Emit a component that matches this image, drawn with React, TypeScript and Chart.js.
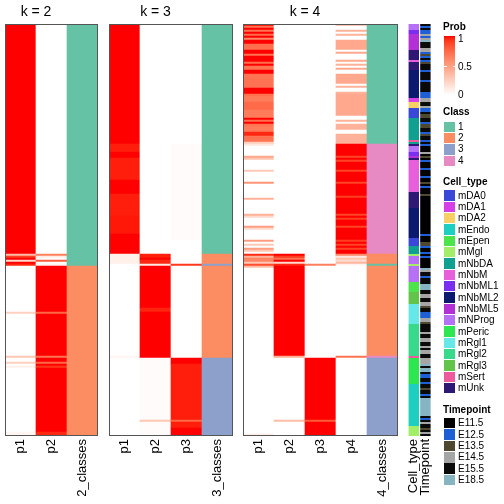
import React, { useEffect, useRef } from "react";
import { Chart, registerables } from "chart.js";

Chart.register(...registerables);

type Run = [number, number];
type LRun = [string, number];

const ROWS = 206;

const k2Columns = ["p1", "p2", "2_classes"];
const k3Columns = ["p1", "p2", "p3", "3_classes"];
const k4Columns = ["p1", "p2", "p3", "p4", "4_classes"];
const annotationColumns = ["Cell_type", "Timepoint"];

// membership probabilities as [value, number of consecutive samples]
const k2P1: Run[] = [[1, 115], [0.35, 1], [0.9, 1], [1, 1], [0.2, 1], [1, 1], [0.95, 1], [0, 23], [0.25, 1], [0, 21], [0.3, 1], [0, 2], [0.25, 1], [0, 1], [0.08, 1], [0, 32], [0.05, 2]];
const k2P2: Run[] = [[0, 115], [0.65, 1], [0.1, 1], [0, 1], [0.8, 1], [0, 1], [0.05, 1], [1, 23], [0.75, 1], [1, 21], [0.7, 1], [1, 2], [0.75, 1], [1, 1], [0.92, 1], [1, 32], [0.95, 2]];
const k2Class: Run[] = [[1, 121], [2, 85]];

const k3P1: Run[] = [[1, 60], [0.97, 4], [1, 3], [0.97, 11], [1, 7], [0.97, 11], [0.98, 9], [1, 10], [0.08, 5], [0, 1], [0, 45], [0.05, 1], [0, 39]];
const k3P2: Run[] = [[0, 115], [0.97, 2], [1, 1], [0.95, 2], [0.1, 1], [1, 21], [0.96, 2], [1, 23], [0.02, 31], [0.3, 1], [0.02, 7]];
const k3P3: Run[] = [[0, 60], [0.02, 48], [0, 12], [0.92, 1], [0, 46], [1, 3], [0.97, 28], [0.75, 1], [0.97, 3], [1, 4]];
const k3Class: Run[] = [[1, 115], [2, 5], [3, 1], [2, 46], [3, 39]];

const k4P1: Run[] = [
  [1, 1], [0.7, 1], [1, 1], [0.7, 1], [1, 1], [0.72, 1], [1, 1], [0.6, 1], [1, 2], [0.72, 3], [1, 2], [0.7, 1], [1, 3], [0.72, 1], [1, 1], [0.7, 2], [1, 2], [0.7, 7], [1, 3], [0.72, 1], [0.66, 3], [0.74, 4], [0.66, 4], [1, 1], [0.72, 1], [1, 1], [0.7, 1], [0.66, 3], [0.95, 2], [0.7, 3], [0.25, 1],
  [0.12, 1], [0, 5], [0.45, 1], [0.32, 1], [0, 5], [0.28, 1], [0, 5], [0.55, 1], [0, 7], [0.4, 1], [0, 7], [0.4, 1], [0.2, 1], [0, 4], [0.5, 1], [0.2, 1], [0, 5], [0.5, 1], [0, 1], [0.28, 1], [0, 1], [0.5, 1], [0.28, 1], [0, 1],
  [0.95, 1], [0.4, 1], [0.62, 2], [0.28, 1], [0.85, 1], [0.35, 1], [0, 83], [0.1, 1],
];
const k4P2: Run[] = [[0, 115], [1, 1], [0.9, 1], [0.7, 1], [1, 1], [0.2, 1], [0.95, 1], [1, 45], [0.42, 1], [0, 31], [0.35, 1], [0, 7]];
const k4P3: Run[] = [[0, 120], [0.65, 1], [0, 46], [1, 31], [0.8, 1], [1, 7]];
const k4P4: Run[] = [
  [0.4, 1], [0, 2], [0.4, 1], [0, 1], [0.4, 1], [0, 2], [0.45, 5], [0, 1], [0.45, 1], [0, 3], [0.45, 1], [0, 1], [0.4, 1], [0, 1], [0.45, 1], [0, 2],
  [0.45, 5], [0, 1], [0.4, 1], [0, 2], [0.4, 1], [0.45, 11], [0, 2], [0.4, 1], [0, 1], [0.4, 3], [0, 2], [0.4, 1], [0.4, 4],
  [1, 6], [0.88, 1], [1, 1], [0.88, 1], [1, 4], [0.88, 1], [1, 5], [0.88, 1], [1, 6], [0.9, 1], [1, 8], [0.88, 1], [1, 1], [0.9, 1], [1, 3], [0.88, 1], [1, 6], [0.9, 1], [1, 1], [0.88, 1], [1, 1], [0.88, 1], [1, 2],
  [0.6, 1], [0.12, 1], [0.3, 1], [0.18, 1], [0.38, 1], [0.06, 1], [0, 45], [0.7, 1], [0, 39],
];
const k4Class: Run[] = [[1, 60], [4, 55], [2, 5], [1, 1], [2, 45], [4, 1], [3, 39]];

const cellTypeRuns: LRun[] = [
  ["mNProg", 3], ["mNbML1", 2], ["mNbML5", 8], ["mUnk", 5], ["mNbM", 1], ["mUnk", 4], ["mNbML2", 14], ["mDA1", 2], ["mDA2", 3], ["mDA0", 5],
  ["mNbDA", 11], ["mSert", 1], ["mNbDA", 1], ["mUnk", 1], ["mNProg", 3], ["mNbML1", 2], ["mNbML5", 1], ["mUnk", 1], ["mNbM", 16], ["mUnk", 8],
  ["mNbML2", 15], ["mDA0", 4], ["mNbDA", 4], ["mMgl", 1], ["mNProg", 4], ["mMgl", 1], ["mNProg", 8], ["mEpen", 5], ["mRgl3", 6], ["mRgl1", 10],
  ["mRgl2", 16], ["mSert", 1], ["mPeric", 13], ["mEndo", 21], ["mMgl", 5],
];

const timepointRuns: LRun[] = [
  ["E15.5", 1], ["E12.5", 1], ["E15.5", 1], ["E12.5", 2], ["E14.5", 1], ["E12.5", 1], ["E14.5", 1], ["E18.5", 1], ["E15.5", 3], ["E14.5", 2],
  ["E12.5", 1], ["E13.5", 1], ["E12.5", 1], ["E15.5", 1], ["E12.5", 1], ["E13.5", 1], ["E15.5", 3], ["E12.5", 1], ["E15.5", 4], ["E12.5", 1],
  ["E15.5", 5], ["E12.5", 3], ["E14.5", 2], ["E15.5", 2], ["E14.5", 1], ["E12.5", 2], ["E15.5", 1], ["E13.5", 2], ["E15.5", 2], ["E12.5", 1],
  ["E13.5", 2], ["E15.5", 2], ["E12.5", 1], ["E13.5", 1], ["E15.5", 2], ["E12.5", 1], ["E15.5", 1], ["E12.5", 1], ["E11.5", 3], ["E14.5", 1],
  ["E11.5", 1], ["E13.5", 1], ["E11.5", 1], ["E12.5", 1], ["E11.5", 3], ["E12.5", 1], ["E11.5", 3], ["E12.5", 1], ["E11.5", 2], ["E13.5", 1],
  ["E11.5", 1], ["E12.5", 1], ["E11.5", 3], ["E13.5", 1], ["E11.5", 19],
  ["E12.5", 1], ["E11.5", 3], ["E13.5", 2], ["E12.5", 1], ["E11.5", 2], ["E12.5", 1], ["E11.5", 1], ["E12.5", 1], ["E11.5", 5], ["E18.5", 1],
  ["E14.5", 1], ["E15.5", 2], ["E12.5", 1], ["E15.5", 3], ["E18.5", 3], ["E15.5", 2], ["E14.5", 2], ["E15.5", 2], ["E14.5", 2], ["E13.5", 1],
  ["E15.5", 2], ["E12.5", 3], ["E14.5", 2], ["E13.5", 1], ["E15.5", 4], ["E14.5", 1], ["E15.5", 2], ["E14.5", 2], ["E15.5", 2], ["E14.5", 1],
  ["E15.5", 1], ["E14.5", 2], ["E15.5", 2], ["E14.5", 3], ["E18.5", 1], ["E15.5", 1], ["E18.5", 2], ["E15.5", 1], ["E12.5", 2], ["E15.5", 2],
  ["E12.5", 1], ["E15.5", 2], ["E13.5", 1], ["E15.5", 2], ["E12.5", 1], ["E15.5", 1], ["E18.5", 9], ["E15.5", 1], ["E12.5", 1], ["E15.5", 1],
  ["E14.5", 1], ["E15.5", 2], ["E13.5", 1], ["E15.5", 1], ["E14.5", 1], ["E15.5", 1],
];

const probTicks = ["1", "0.5", "0"];
const classLevels = ["1", "2", "3", "4"];
const classColors = ["#66C2A5", "#FC8D62", "#8DA0CB", "#E78AC3"];
const cellTypeLevels = ["mDA0", "mDA1", "mDA2", "mEndo", "mEpen", "mMgl", "mNbDA", "mNbM", "mNbML1", "mNbML2", "mNbML5", "mNProg", "mPeric", "mRgl1", "mRgl2", "mRgl3", "mSert", "mUnk"];
const cellTypeColors = ["#3A48D8", "#D63EE8", "#F7CF63", "#1CCFC0", "#4DE34B", "#A2EE66", "#10A090", "#E85FDC", "#7B2EF0", "#0B1A6E", "#B32FD6", "#B570F5", "#2EE650", "#66E8E8", "#36DA8A", "#63C44C", "#EE5B9C", "#2E1873"];
const timepointLevels = ["E11.5", "E12.5", "E13.5", "E14.5", "E15.5", "E18.5"];
const timepointColors = ["#000000", "#1F5FD6", "#4E4830", "#A5A5A5", "#0A0A0A", "#86B4C2"];

const FONT = '"Liberation Sans", Arial, Helvetica, sans-serif';

// ---- colour helpers (LAB interpolation white -> red, like colorRamp2) ----
const WX = 0.95047, WY = 1.0, WZ = 1.08883;
const toLin = (c: number) => { const s = c / 255; return s <= 0.04045 ? s / 12.92 : Math.pow((s + 0.055) / 1.055, 2.4); };
const fromLin = (c: number) => { const s = c <= 0.0031308 ? 12.92 * c : 1.055 * Math.pow(c, 1 / 2.4) - 0.055; return Math.round(Math.max(0, Math.min(1, s)) * 255); };
const fl = (t: number) => (t > 0.008856 ? Math.cbrt(t) : 7.787 * t + 16 / 116);
const finv = (t: number) => { const t3 = t * t * t; return t3 > 0.008856 ? t3 : (t - 16 / 116) / 7.787; };
function rgbToLab(r: number, g: number, b: number) {
  const R = toLin(r), G = toLin(g), B = toLin(b);
  const X = (0.4124 * R + 0.3576 * G + 0.1805 * B) / WX;
  const Y = (0.2126 * R + 0.7152 * G + 0.0722 * B) / WY;
  const Z = (0.0193 * R + 0.1192 * G + 0.9505 * B) / WZ;
  const fx = fl(X), fy = fl(Y), fz = fl(Z);
  return [116 * fy - 16, 500 * (fx - fy), 200 * (fy - fz)];
}
function labToRgb(L: number, a: number, b: number) {
  const fy = (L + 16) / 116, fx = fy + a / 500, fz = fy - b / 200;
  const X = finv(fx) * WX, Y = finv(fy) * WY, Z = finv(fz) * WZ;
  const R = 3.2406 * X - 1.5372 * Y - 0.4986 * Z;
  const G = -0.9689 * X + 1.8758 * Y + 0.0415 * Z;
  const B = 0.0557 * X - 0.204 * Y + 1.057 * Z;
  return `rgb(${fromLin(R)},${fromLin(G)},${fromLin(B)})`;
}
const LAB_WHITE = rgbToLab(255, 255, 255);
const LAB_RED = rgbToLab(255, 0, 0);
function probColor(v: number) {
  return labToRgb(
    LAB_WHITE[0] + (LAB_RED[0] - LAB_WHITE[0]) * v,
    LAB_WHITE[1] + (LAB_RED[1] - LAB_WHITE[1]) * v,
    LAB_WHITE[2] + (LAB_RED[2] - LAB_WHITE[2]) * v
  );
}

type Cell = { start: number; end: number; color: string };
function numRuns(runs: Run[], color: (v: number) => string): Cell[] {
  const out: Cell[] = [];
  let s = 0;
  for (const [v, n] of runs) { out.push({ start: s, end: s + n, color: color(v) }); s += n; }
  return out;
}
function labelRuns(runs: LRun[], levels: string[], colors: string[]): Cell[] {
  const out: Cell[] = [];
  let s = 0;
  for (const [l, n] of runs) { out.push({ start: s, end: s + n, color: colors[levels.indexOf(l)] }); s += n; }
  return out;
}
const classColor = (v: number) => classColors[classLevels.indexOf(String(v))];

const borderPlugin = {
  id: "panelBorder",
  afterDatasetsDraw(chart: any) {
    const { ctx, chartArea } = chart;
    const { left, top, right, bottom } = chartArea;
    ctx.save();
    ctx.strokeStyle = "#555555";
    ctx.lineWidth = 1;
    ctx.strokeRect(Math.round(left) + 0.5, Math.round(top) + 0.5, Math.round(right - left) - 1, Math.round(bottom - top) - 1);
    ctx.restore();
  },
};

function HeatPanel(props: { left: number; width: number; pad: number; columns: string[]; cells: Cell[][]; border: boolean; barPct: number }) {
  const ref = useRef<HTMLCanvasElement>(null);
  useEffect(() => {
    const data: any[] = [];
    const colors: string[] = [];
    props.cells.forEach((col, ci) =>
      col.forEach((c) => {
        data.push({ x: props.columns[ci], y: [c.start, c.end] });
        colors.push(c.color);
      })
    );
    const chart = new Chart(ref.current as HTMLCanvasElement, {
      type: "bar",
      data: {
        labels: props.columns,
        datasets: [
          {
            data,
            backgroundColor: colors,
            borderWidth: 0,
            borderSkipped: false,
            barPercentage: props.barPct,
            categoryPercentage: 1,
            grouped: false,
          } as any,
        ],
      },
      options: {
        responsive: false,
        maintainAspectRatio: false,
        animation: false,
        events: [],
        layout: { padding: { top: 24, bottom: 0, left: props.pad, right: props.pad } },
        plugins: { legend: { display: false }, tooltip: { enabled: false }, title: { display: false } },
        scales: {
          x: {
            type: "category",
            offset: true,
            grid: { display: false, drawTicks: false },
            border: { display: false },
            ticks: {
              autoSkip: false,
              maxRotation: 90,
              minRotation: 90,
              padding: 3,
              color: "#000000",
              font: { family: FONT, size: 13 },
            },
            afterFit: (s: any) => { s.height = 68; },
          },
          y: { type: "linear", min: 0, max: ROWS, reverse: true, display: false },
        },
      } as any,
      plugins: props.border ? [borderPlugin] : [],
    });
    return () => chart.destroy();
  }, []);
  return (
    <canvas
      ref={ref}
      width={props.width}
      height={504}
      style={{ position: "absolute", left: props.left, top: 0, width: props.width, height: 504 }}
    />
  );
}

function Txt(props: { x: number; cy: number; text: string; bold?: boolean; size?: number }) {
  const size = props.size ?? 10;
  return (
    <div
      style={{
        position: "absolute",
        left: props.x,
        top: props.cy - size * 0.6,
        height: size * 1.2,
        lineHeight: `${size * 1.2}px`,
        fontFamily: FONT,
        fontSize: size,
        fontWeight: props.bold ? "bold" : "normal",
        color: "#000",
        whiteSpace: "nowrap",
      }}
    >
      {props.text}
    </div>
  );
}

function Box(props: { x: number; cy: number; color: string }) {
  return (
    <div
      style={{
        position: "absolute",
        left: props.x,
        top: props.cy - 5.2,
        width: 11,
        height: 10.4,
        background: props.color,
      }}
    />
  );
}

function Legends() {
  const stops: string[] = [];
  for (let i = 0; i <= 20; i++) stops.push(`${probColor(1 - i / 20)} ${(i / 20) * 100}%`);
  const step = 11.34;
  const LX = 444;
  const TX = 458;
  const probCenters = [39.3, 66.7, 95];
  return (
    <>
      <Txt x={LX - 1} cy={27.3} text="Prob" bold />
      <div style={{ position: "absolute", left: LX, top: 36, width: 11, height: 59, background: `linear-gradient(to bottom, ${stops.join(", ")})` }} />
      <div style={{ position: "absolute", left: LX, top: 66, width: 2.5, height: 1, background: "#fff" }} />
      <div style={{ position: "absolute", left: LX + 8.5, top: 66, width: 2.5, height: 1, background: "#fff" }} />
      {probTicks.map((t, i) => <Txt key={t} x={TX} cy={probCenters[i]} text={t} />)}

      <Txt x={LX - 1} cy={111.7} text="Class" bold />
      {classLevels.map((l, i) => (
        <React.Fragment key={l}>
          <Box x={LX} cy={126.7 + i * step} color={classColors[i]} />
          <Txt x={TX} cy={126.7 + i * step} text={l} />
        </React.Fragment>
      ))}

      <Txt x={LX - 1} cy={181.7} text="Cell_type" bold />
      {cellTypeLevels.map((l, i) => (
        <React.Fragment key={l}>
          <Box x={LX} cy={195.5 + i * step} color={cellTypeColors[i]} />
          <Txt x={TX} cy={195.5 + i * step} text={l} />
        </React.Fragment>
      ))}

      <Txt x={LX - 1} cy={410} text="Timepoint" bold />
      {timepointLevels.map((l, i) => (
        <React.Fragment key={l}>
          <Box x={LX} cy={423.3 + i * step} color={timepointColors[i]} />
          <Txt x={TX} cy={423.3 + i * step} text={l} />
        </React.Fragment>
      ))}
    </>
  );
}

function Title(props: { cx: number; text: string }) {
  return (
    <div
      style={{
        position: "absolute",
        left: props.cx - 40,
        width: 80,
        top: 2,
        height: 18,
        lineHeight: "18px",
        textAlign: "center",
        fontFamily: FONT,
        fontSize: 14,
        color: "#000",
      }}
    >
      {props.text}
    </div>
  );
}

export default function App() {
  const k2Cells = [numRuns(k2P1, probColor), numRuns(k2P2, probColor), numRuns(k2Class, classColor)];
  const k3Cells = [numRuns(k3P1, probColor), numRuns(k3P2, probColor), numRuns(k3P3, probColor), numRuns(k3Class, classColor)];
  const k4Cells = [numRuns(k4P1, probColor), numRuns(k4P2, probColor), numRuns(k4P3, probColor), numRuns(k4P4, probColor), numRuns(k4Class, classColor)];
  const annCells = [labelRuns(cellTypeRuns, cellTypeLevels, cellTypeColors), labelRuns(timepointRuns, timepointLevels, timepointColors)];
  return (
    <div style={{ position: "absolute", left: 0, top: 0, width: 504, height: 504, background: "#ffffff", overflow: "hidden" }}>
      <HeatPanel left={1} width={101} pad={4} columns={k2Columns} cells={k2Cells} border barPct={1} />
      <HeatPanel left={105} width={132} pad={4} columns={k3Columns} cells={k3Cells} border barPct={1} />
      <HeatPanel left={239} width={163} pad={4} columns={k4Columns} cells={k4Cells} border barPct={1} />
      <HeatPanel left={400} width={46} pad={8} columns={annotationColumns} cells={annCells} border={false} barPct={0.9} />
      <Title cx={36} text="k = 2" />
      <Title cx={155.5} text="k = 3" />
      <Title cx={305} text="k = 4" />
      <Legends />
    </div>
  );
}
